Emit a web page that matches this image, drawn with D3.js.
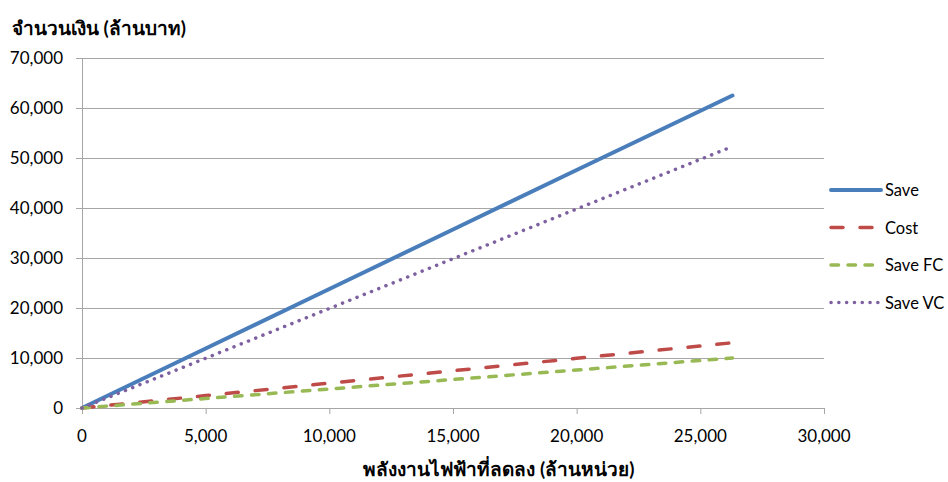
<!DOCTYPE html>
<html>
<head>
<meta charset="utf-8">
<script src="https://cdn.jsdelivr.net/npm/d3@7"></script>
<style>
  body { margin: 0; background: #fff; }
  svg { display: block; font-family: Lato, "Liberation Sans", sans-serif; }
</style>
</head>
<body>
<div id="chart"></div>
<script>
// x values (million units) and series values (million baht)
const energy = [0, 5000, 10000, 15000, 20000, 26300];
const save = [0, 11900, 23800, 35700, 47600, 62500];
const cost = [0, 2480, 4970, 7450, 9940, 13050];
const saveFC = [0, 1900, 3800, 5700, 7600, 10000];
const saveVC = [0, 9950, 19900, 29850, 39800, 52300];

const xTicks = [0, 5000, 10000, 15000, 20000, 25000, 30000];
const yTicks = [0, 10000, 20000, 30000, 40000, 50000, 60000, 70000];

const series = [
  { name: "Save", values: save, color: "#4a7ebb", width: 4, dash: null },
  { name: "Cost", values: cost, color: "#be4b48", width: 3.5, dash: "12 17" },
  { name: "Save FC", values: saveFC, color: "#98b954", width: 3.5, dash: "7.5 9.5" },
  { name: "Save VC", values: saveVC, color: "#7d60a0", width: 3.5, dash: "0.1 7.7" },
];

const width = 948, height = 482;
const plot = { left: 82, right: 824, top: 58, bottom: 408 };

const svg = d3.select("#chart").append("svg")
  .attr("width", width).attr("height", height);

const x = d3.scaleLinear().domain([0, 30000]).range([plot.left, plot.right]);
const y = d3.scaleLinear().domain([0, 70000]).range([plot.bottom, plot.top]);
const fmt = d3.format(",");

// gridlines
svg.append("g")
  .selectAll("line")
  .data(yTicks)
  .join("line")
  .attr("x1", plot.left - 6).attr("x2", plot.right)
  .attr("y1", d => y(d) + 0.5).attr("y2", d => y(d) + 0.5)
  .attr("stroke", "#a6a6a6").attr("stroke-width", 1);

// y axis line
svg.append("line")
  .attr("x1", plot.left + 0.5).attr("x2", plot.left + 0.5)
  .attr("y1", plot.top).attr("y2", plot.bottom + 6)
  .attr("stroke", "#a6a6a6");

// x ticks
svg.append("g")
  .selectAll("line")
  .data(xTicks)
  .join("line")
  .attr("x1", d => x(d) + 0.5).attr("x2", d => x(d) + 0.5)
  .attr("y1", plot.bottom).attr("y2", plot.bottom + 6)
  .attr("stroke", "#a6a6a6");

// y tick labels
svg.append("g")
  .selectAll("text")
  .data(yTicks)
  .join("text")
  .attr("x", 63).attr("y", d => y(d) + 6)
  .attr("text-anchor", "end")
  .attr("font-size", 17).attr("fill", "#000")
  .text(d => fmt(d));

// x tick labels
svg.append("g")
  .selectAll("text")
  .data(xTicks)
  .join("text")
  .attr("x", d => x(d)).attr("y", 442)
  .attr("text-anchor", "middle")
  .attr("font-size", 17).attr("fill", "#000")
  .text(d => fmt(d));

// lines
const line = d3.line().x((d, i) => x(energy[i])).y(d => y(d));
svg.append("g")
  .selectAll("path")
  .data(series)
  .join("path")
  .attr("d", d => line(d.values))
  .attr("fill", "none")
  .attr("stroke", d => d.color)
  .attr("stroke-width", d => d.width)
  .attr("stroke-linecap", "round")
  .attr("stroke-dasharray", d => d.dash);

// legend
const legend = svg.append("g")
  .selectAll("g")
  .data(series)
  .join("g")
  .attr("transform", (d, i) => `translate(831, ${190 + i * 37.5})`);
legend.append("line")
  .attr("x1", 0).attr("x2", 50)
  .attr("stroke", d => d.color)
  .attr("stroke-width", d => d.width)
  .attr("stroke-linecap", "round")
  .attr("stroke-dasharray", d => d.dash);
legend.append("text")
  .attr("x", 54).attr("y", 6)
  .attr("font-size", 16.5).attr("fill", "#000")
  .text(d => d.name);

// axis titles
svg.append("text")
  .attr("x", 12).attr("y", 35)
  .attr("font-size", 19).attr("font-weight", "bold")
  .text("จำนวนเงิน (ล้านบาท)");

svg.append("text")
  .attr("x", 499).attr("y", 476)
  .attr("text-anchor", "middle")
  .attr("font-size", 19).attr("font-weight", "bold")
  .text("พลังงานไฟฟ้าที่ลดลง (ล้านหน่วย)");
</script>
</body>
</html>
